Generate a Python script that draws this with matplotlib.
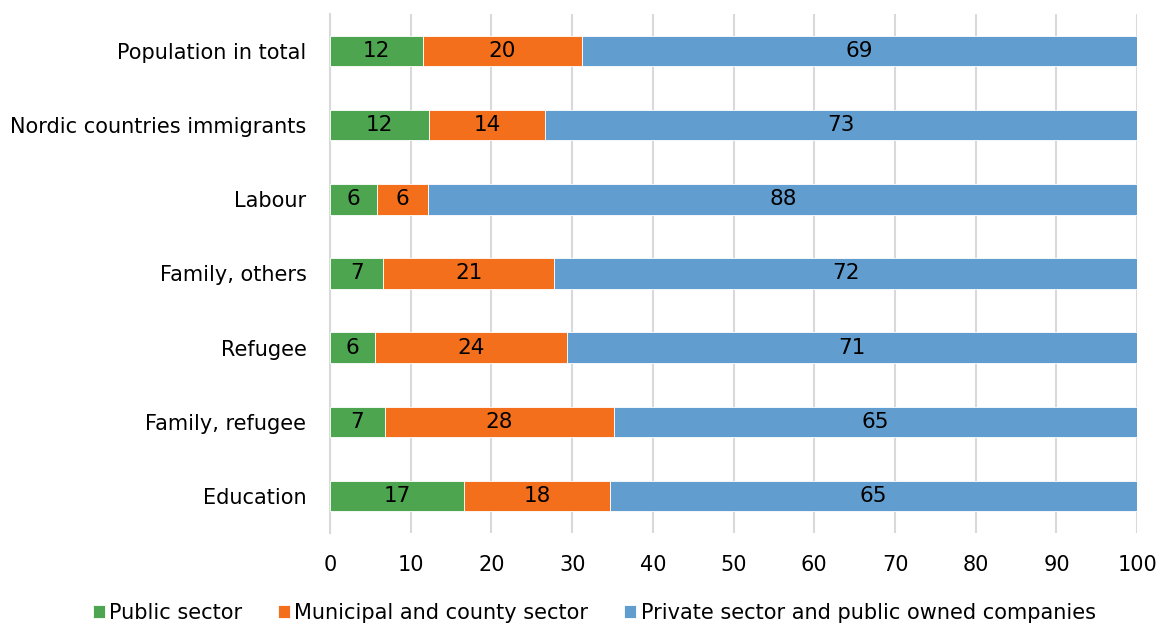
import matplotlib.pyplot as plt
import numpy as np

plt.rcParams['font.family'] = ['DejaVu Sans']

# shares of employed persons by sector, in percent
groups = ['Population in total', 'Nordic countries immigrants', 'Labour',
          'Family, others', 'Refugee', 'Family, refugee', 'Education']
public = [11.5, 12.3, 5.8, 6.6, 5.6, 6.8, 16.6]
municipal = [19.7, 14.3, 6.4, 21.2, 23.8, 28.4, 18.1]
private = [68.8, 73.4, 87.8, 72.2, 70.6, 64.8, 65.3]

series = [
    ('Public sector', public, '#4ea54f'),
    ('Municipal and county sector', municipal, '#f46f1b'),
    ('Private sector and public owned companies', private, '#619ecf'),
]

fig = plt.figure(figsize=(11.58, 6.28), dpi=100)
ax = fig.add_axes([0.285, 0.151, 0.697, 0.827])

y = np.arange(len(groups))
left = np.zeros(len(groups))
for name, vals, col in series:
    vals = np.array(vals)
    ax.barh(y, vals, left=left, height=0.41, color=col, label=name,
            edgecolor='white', linewidth=0.6, zorder=3)
    for yi, l, v in zip(y, left, vals):
        ax.text(l + v / 2, yi, f'{v:.0f}', ha='center', va='center',
                fontsize=15.5, color='black', zorder=4)
    left += vals

ax.set_xlim(0, 100)
ax.set_ylim(len(groups) - 0.5, -0.5)
ax.set_yticks(y)
ax.set_yticklabels(groups, fontsize=15)
ax.set_xticks(np.arange(0, 101, 10))
ax.tick_params(axis='x', labelsize=15, length=0, pad=16)
ax.tick_params(axis='y', length=0, pad=17)
ax.xaxis.grid(True, color='#d9d9d9', linewidth=1.5, zorder=0)
for s in ['top', 'right', 'bottom']:
    ax.spines[s].set_visible(False)
ax.spines['left'].set_color('#d9d9d9')
ax.spines['left'].set_linewidth(1.5)

fig.legend(loc='center', bbox_to_anchor=(0.513, 0.024), ncol=3, frameon=False,
           fontsize=15, handlelength=0.6, handleheight=0.6, handletextpad=0.2,
           columnspacing=1.7)

fig.savefig('out.png', dpi=100)
